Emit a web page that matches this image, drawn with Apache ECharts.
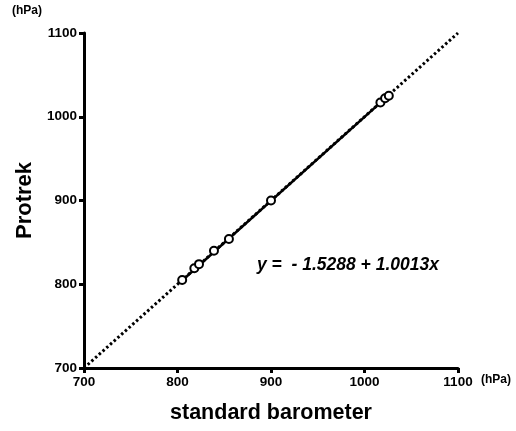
<!DOCTYPE html>
<html>
<head>
<meta charset="utf-8">
<script src="https://cdn.jsdelivr.net/npm/echarts@6/dist/echarts.min.js"></script>
<style>
  html, body { margin: 0; padding: 0; background: #fff; }
  #chart { width: 516px; height: 431px; }
</style>
</head>
<body>
<div id="chart"></div>
<script>
// readings: standard barometer (x) vs Protrek (y), hPa
var standard = [805, 818, 823, 839, 855, 900, 1017, 1022, 1026];
var protrek = [805, 819, 824, 840, 854, 900, 1017, 1022, 1025];
// identity line and fitted line end points
var identity = [[700, 700], [1100, 1100]];
var fitLine = [[805, 804.5], [1026, 1025.8]];
var axisTicks = [700, 800, 900, 1000, 1100];

var chart = echarts.init(document.getElementById('chart'));

var points = [];
for (var i = 0; i < standard.length; i++) {
    points.push([standard[i], protrek[i]]);
}

var font = 'Liberation Sans, Arial, sans-serif';

var option = {
    animation: false,
    grid: { left: 84, right: 58, top: 33, bottom: 63, containLabel: false, outerBoundsMode: 'none' },
    xAxis: {
        type: 'value',
        min: axisTicks[0],
        max: axisTicks[axisTicks.length - 1],
        interval: 100,
        name: 'standard barometer',
        nameLocation: 'middle',
        nameGap: 34,
        nameTextStyle: { fontFamily: font, fontSize: 21.5, fontWeight: 'bold', color: '#000' },
        axisLine: { lineStyle: { color: '#000', width: 3 } },
        axisTick: { length: 5, lineStyle: { color: '#000', width: 3 } },
        axisLabel: { fontFamily: font, fontSize: 13.5, fontWeight: 'bold', color: '#000', margin: 7,
            formatter: function (v) { return String(v); } },
        splitLine: { show: false }
    },
    yAxis: {
        type: 'value',
        min: axisTicks[0],
        max: axisTicks[axisTicks.length - 1],
        interval: 100,
        name: 'Protrek',
        nameLocation: 'middle',
        nameGap: 48,
        nameTextStyle: { fontFamily: font, fontSize: 22, fontWeight: 'bold', color: '#000' },
        axisLine: { lineStyle: { color: '#000', width: 3 } },
        axisTick: { length: 5, lineStyle: { color: '#000', width: 3 } },
        axisLabel: { fontFamily: font, fontSize: 13.5, fontWeight: 'bold', color: '#000', margin: 7,
            formatter: function (v) { return String(v); } },
        splitLine: { show: false }
    },
    series: [
        {
            type: 'line',
            data: identity,
            symbol: 'none',
            lineStyle: { color: '#000', width: 3, type: [2.5, 2.5] },
            z: 1
        },
        {
            type: 'line',
            data: fitLine,
            symbol: 'none',
            lineStyle: { color: '#000', width: 2.5 },
            z: 2
        },
        {
            type: 'scatter',
            data: points,
            symbol: 'circle',
            symbolSize: 8,
            itemStyle: { color: '#fff', borderColor: '#000', borderWidth: 2, opacity: 1 },
            z: 3
        }
    ],
    graphic: [
        {
            type: 'text', left: 12, top: 5,
            style: { text: '(hPa)', font: 'bold 12px ' + font, fill: '#000' }
        },
        {
            type: 'text', left: 481, top: 374,
            style: { text: '(hPa)', font: 'bold 12px ' + font, fill: '#000' }
        },
        {
            type: 'text', left: 257, top: 256,
            style: { text: 'y =  - 1.5288 + 1.0013x', font: 'italic bold 17.5px ' + font, fill: '#000' }
        }
    ]
};

chart.setOption(option);
</script>
</body>
</html>
